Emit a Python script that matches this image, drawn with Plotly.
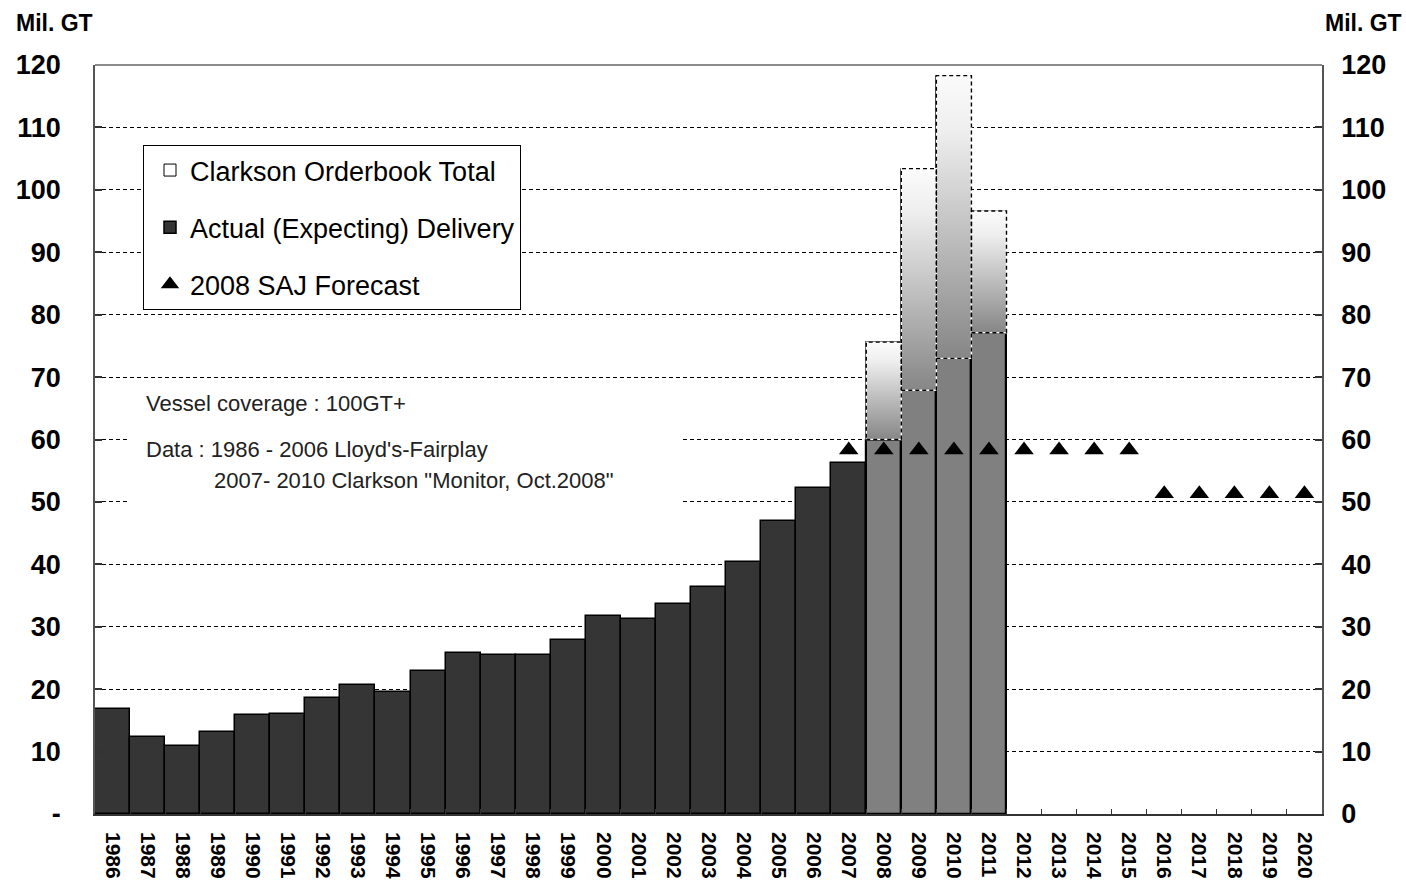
import plotly.graph_objects as go

# ---- data (million GT) ----
years = list(range(1986, 2021))
delivery_years = list(range(1986, 2012))
delivery = [16.9, 12.4, 10.9, 13.1, 15.9, 16.1, 18.6, 20.6, 19.6, 22.9,
            25.8, 25.5, 25.5, 27.8, 31.8, 31.25, 33.6, 36.3, 40.3, 47.0,
            52.2, 56.3, 60.0, 67.9, 73.0, 77.1]
orderbook_years = [2008, 2009, 2010, 2011]
orderbook_total = [75.6, 103.4, 118.3, 96.6]
saj_years = list(range(2007, 2021))
saj_forecast = [58.3] * 9 + [51.3] * 5
y_ticks = list(range(0, 121, 10))
left_tick_text = ["-"] + [str(v) for v in y_ticks[1:]]
right_tick_text = [str(v) for v in y_ticks]

FONT = "Liberation Sans, Arial, sans-serif"
DARK = "#353535"
GREY = "#808080"

# plot-area geometry in pixels, used for placing annotations
W, H = 1406, 883
L, R, T, B = 95, 84, 65, 69
PW, PH = W - L - R, H - T - B


def px_x(p):
    return (p - L) / PW


def px_y(p):
    return 1 - (p - T) / PH


fig = go.Figure()

# orderbook totals stacked on top of the deliveries (base of the white box)
ob_delivery = [delivery[delivery_years.index(y)] for y in orderbook_years]
fig.add_trace(go.Bar(
    x=orderbook_years,
    y=[t - d for t, d in zip(orderbook_total, ob_delivery)],
    base=ob_delivery,
    width=1,
    name="Clarkson Orderbook Total",
    legendgroup="ob", legendrank=1,
    marker=dict(color="white", line=dict(color="black", width=1)),
    hoverinfo="skip",
))

# actual / expected deliveries
bar_colors = [DARK if y < 2008 else GREY for y in delivery_years]
bar_lw = [1.5 if y < 2008 else 2.2 for y in delivery_years]
fig.add_trace(go.Bar(
    x=delivery_years, y=delivery, width=1,
    name="Actual (Expecting) Delivery",
    legendgroup="del", legendrank=2,
    marker=dict(color=bar_colors, line=dict(color="black", width=bar_lw)),
))

# gradient fill for each orderbook box
for yr, d, t in zip(orderbook_years, ob_delivery, orderbook_total):
    fig.add_trace(go.Scatter(
        x=[yr - 0.5, yr + 0.5, yr + 0.5, yr - 0.5, yr - 0.5],
        y=[d, d, t, t, d],
        mode="lines", fill="toself",
        fillgradient=dict(type="vertical",
                          colorscale=[[0, "#868686"], [0.8, "#eeeeee"], [1, "#fbfbfb"]]),
        line=dict(color="white", width=1.4),
        showlegend=False, hoverinfo="skip",
    ))

# dashed outlines of the orderbook boxes
ox, oy = [], []
for yr, d, t in zip(orderbook_years, ob_delivery, orderbook_total):
    ox += [yr - 0.5, yr + 0.5, yr + 0.5, yr - 0.5, yr - 0.5, None]
    oy += [d, d, t, t, d, None]
fig.add_trace(go.Scatter(
    x=ox, y=oy, mode="lines",
    line=dict(color="black", width=1.4, dash="4px,3px"),
    showlegend=False, hoverinfo="skip",
))

# 2008 SAJ forecast
fig.add_trace(go.Scatter(
    x=saj_years, y=saj_forecast, mode="markers",
    name="2008 SAJ Forecast", legendgroup="saj", legendrank=3,
    marker=dict(symbol="triangle-up", size=17, color="black"),
    yaxis="y2",
))

yaxis_common = dict(
    range=[0, 120], tickmode="array", tickvals=y_ticks,
    tickfont=dict(family=FONT, size=27, color="black", weight="bold"),
    ticks="inside", ticklen=7, tickcolor="#333", tickwidth=1.5,
    showline=True, linecolor="#555", linewidth=1.5,
    zeroline=False, fixedrange=True, automargin=False,
)

fig.update_layout(
    width=W, height=H,
    margin=dict(l=L, r=R, t=T, b=B, autoexpand=False),
    paper_bgcolor="white", plot_bgcolor="white",
    barmode="overlay", bargap=0,
    font=dict(family=FONT, color="black"),
    xaxis=dict(
        range=[1985.5, 2020.5], tickmode="array", tickvals=years,
        ticktext=[str(y) for y in years], tickangle=90,
        tickfont=dict(family=FONT, size=21, color="black", weight="bold"),
        ticks="", showline=True, linecolor="#333", linewidth=1.5,
        showgrid=False, zeroline=False, ticklabelstandoff=12, automargin=False,
        minor=dict(tickmode="array", tickvals=[y + 0.5 for y in years[:-1]],
                   ticks="inside", ticklen=5, tickcolor="#333", showgrid=False),
    ),
    yaxis=dict(
        **yaxis_common, ticktext=left_tick_text, side="left",
        showgrid=True, gridcolor="black", gridwidth=1, griddash="4px,3px",
        ticklabelstandoff=27,
    ),
    yaxis2=dict(
        **yaxis_common, ticktext=right_tick_text, side="right",
        overlaying="y", showgrid=False, ticklabelstandoff=12,
    ),
    legend=dict(
        x=px_x(143), y=px_y(145), xanchor="left", yanchor="top",
        bgcolor="white", bordercolor="black", borderwidth=1,
        font=dict(family=FONT, size=27, color="black"),
        traceorder="grouped", tracegroupgap=19, indentation=6,
        itemclick=False, itemdoubleclick=False,
    ),
    shapes=[
        # white backing of the source note (covers the grid in that area)
        dict(type="rect", xref="paper", yref="paper",
             x0=px_x(130), x1=px_x(682), y0=px_y(512), y1=px_y(386),
             fillcolor="white", line=dict(width=0), layer="above"),
        # top frame line
        dict(type="line", xref="paper", yref="paper",
             x0=0, x1=1, y0=1, y1=1, line=dict(color="#8c8c8c", width=2)),
    ],
    annotations=[
        dict(text="Mil. GT", xref="paper", yref="paper", x=px_x(14), y=px_y(23),
             xanchor="left", yanchor="middle", showarrow=False,
             font=dict(family=FONT, size=23, weight="bold", color="black")),
        dict(text="Mil. GT", xref="paper", yref="paper", x=px_x(1404), y=px_y(23),
             xanchor="right", yanchor="middle", showarrow=False,
             font=dict(family=FONT, size=23, weight="bold", color="black")),
        dict(text="Vessel coverage : 100GT+", xref="paper", yref="paper",
             x=px_x(144), y=px_y(403), xanchor="left", yanchor="middle",
             showarrow=False, font=dict(family=FONT, size=22, color="#222")),
        dict(text="Data : 1986 - 2006 Lloyd's-Fairplay", xref="paper", yref="paper",
             x=px_x(144), y=px_y(450), xanchor="left", yanchor="middle",
             showarrow=False, font=dict(family=FONT, size=22, color="#222")),
        dict(text="2007- 2010 Clarkson \"Monitor, Oct.2008\"", xref="paper", yref="paper",
             x=px_x(212), y=px_y(480), xanchor="left", yanchor="middle",
             showarrow=False, font=dict(family=FONT, size=22, color="#222")),
    ],
)

fig.write_html("out.html")
